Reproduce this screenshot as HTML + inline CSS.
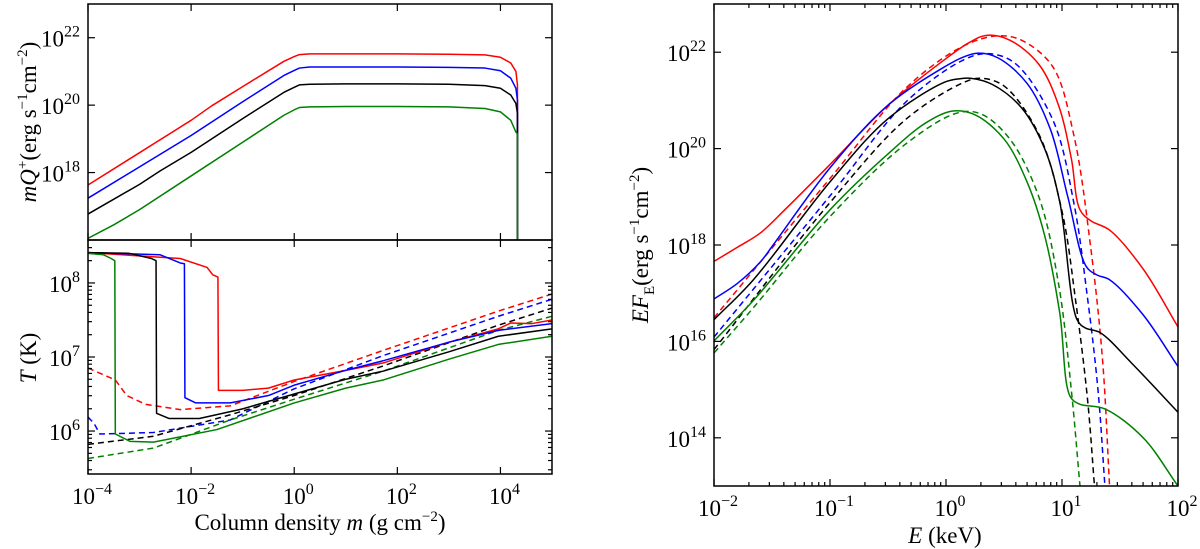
<!DOCTYPE html>
<html><head><meta charset="utf-8">
<style>
html,body{margin:0;padding:0;background:#fff;}
svg{display:block;}
svg text{font-family:"Liberation Serif","DejaVu Serif",serif;}
</style></head>
<body>
<svg id="fig" width="1200" height="549" viewBox="0 0 1200 549">
  <g id="plots"></g>
  <text x="0" y="0" transform="translate(36,122) rotate(-90)" text-anchor="middle" font-size="23"><tspan font-style="italic">mQ</tspan><tspan dy="-9" font-size="15">+</tspan><tspan dy="9">(erg s</tspan><tspan dy="-9" font-size="15">−1</tspan><tspan dy="9">cm</tspan><tspan dy="-9" font-size="15">−2</tspan><tspan dy="9">)</tspan></text>
  <text x="0" y="0" transform="translate(36,358) rotate(-90)" text-anchor="middle" font-size="23"><tspan font-style="italic">T</tspan> (K)</text>
  <text x="320" y="530" text-anchor="middle" font-size="23">Column density <tspan font-style="italic">m</tspan> (g cm<tspan dy="-9" font-size="15">−2</tspan><tspan dy="9">)</tspan></text>
  <text x="0" y="0" transform="translate(648,245) rotate(-90)" text-anchor="middle" font-size="23"><tspan font-style="italic">EF</tspan><tspan dy="6" font-size="15">E</tspan><tspan dy="-6">(erg s</tspan><tspan dy="-9" font-size="15">−1</tspan><tspan dy="9">cm</tspan><tspan dy="-9" font-size="15">−2</tspan><tspan dy="9">)</tspan></text>
  <text x="945" y="543" text-anchor="middle" font-size="23"><tspan font-style="italic">E</tspan> (keV)</text>
</svg>
<script>
// ---- Data (log10 values) ----
const seriesColors = ["red","blue","black","green"];
// Top-left: log m vs log mQ+
const qRedX = [-4,-2,-1.6,-1,-0.2,0,0.1,0.3,1,2,3,3.7,4.0,4.2,4.3,4.33,4.33];
const qRedY = [17.63,19.55,19.98,20.55,21.3,21.44,21.5,21.52,21.52,21.52,21.51,21.49,21.42,21.25,21.0,20.6,15.9];
const qBlueX = [-4,-2,-1.6,-1,-0.2,0,0.1,0.3,1,2,3,3.7,4.0,4.2,4.3,4.33,4.33];
const qBlueY = [17.24,19.1,19.5,20.1,20.88,21.03,21.1,21.13,21.13,21.13,21.12,21.1,21.02,20.8,20.5,20.15,15.9];
const qBlackX = [-4,-3,-2.6,-2,-1,-0.2,0,0.1,0.3,1,2,3,3.7,4.0,4.2,4.3,4.33,4.33];
const qBlackY = [16.77,17.65,18.05,18.6,19.6,20.38,20.53,20.6,20.62,20.63,20.63,20.62,20.58,20.5,20.3,20.05,19.75,15.9];
const qGreenX = [-4,-3.5,-3,-2,-1,-0.2,0,0.1,0.3,1,2,3,3.7,4.0,4.2,4.3,4.33,4.33];
const qGreenY = [16.05,16.45,16.9,17.9,18.9,19.7,19.86,19.93,19.95,19.96,19.96,19.95,19.9,19.8,19.55,19.2,19.15,15.9];
// Bottom-left: log m vs log T (solid and dashed)
const tRedX = [-4,-2.21,-1.69,-1.58,-1.48,-1.47,-1,-0.5,0,1,1.73,3,3.96,4.2,4.6,5];
const tRedY = [8.41,8.33,8.21,8.11,8.08,6.55,6.55,6.58,6.69,6.82,6.92,7.2,7.38,7.46,7.45,7.5];
const tBlueX = [-4,-2.6,-2.21,-2.13,-2.12,-1.91,-1.24,-0.5,0,1,1.73,3,3.96,5];
const tBlueY = [8.41,8.38,8.27,8.26,6.45,6.38,6.38,6.48,6.62,6.82,6.95,7.2,7.36,7.45];
const tBlackX = [-4,-3.2,-2.77,-2.68,-2.67,-2.43,-1.84,-1,0,1,1.73,3,3.96,5];
const tBlackY = [8.41,8.4,8.33,8.3,6.24,6.17,6.17,6.3,6.5,6.7,6.81,7.07,7.28,7.38];
const tGreenX = [-4,-3.7,-3.55,-3.48,-3.47,-3.18,-2.73,-1.5,0,1,1.73,3,3.96,5];
const tGreenY = [8.4,8.38,8.33,8.3,5.96,5.86,5.85,6.02,6.38,6.58,6.69,6.97,7.17,7.28];
const tdRedX = [-4,-3.47,-3.25,-2.88,-2.21,-1.24,0,1.73,3.96,5];
const tdRedY = [6.85,6.69,6.48,6.36,6.29,6.34,6.67,7.09,7.62,7.85];
const tdBlueX = [-4,-3.88,-3.77,-2.73,-1.24,0,1.73,3.96,5];
const tdBlueY = [6.19,6.1,5.96,5.98,6.15,6.57,7.02,7.55,7.78];
const tdBlackX = [-4,-2.73,-1.24,0,1.73,3.96,5];
const tdBlackY = [5.82,5.93,6.22,6.48,6.88,7.43,7.66];
const tdGreenX = [-4,-2.73,-1.24,0,1.73,3.96,5];
const tdGreenY = [5.63,5.77,6.15,6.43,6.81,7.36,7.55];
// Right: log E vs log EF_E
const sRedX = [-2,-1.8,-1.6,-1.39,-1,-0.5,-0.01,0.2,0.35,0.55,0.8,0.97,1.08,1.155,1.25,1.41,1.7,2];
const sRedY = [17.66,17.95,18.25,18.73,19.67,20.9,21.85,22.2,22.35,22.25,21.75,20.9,19.8,18.73,18.5,18.31,17.5,16.3];
const sBlueX = [-2,-1.8,-1.6,-1.49,-1,-0.5,-0.01,0.15,0.28,0.45,0.7,0.9,1.05,1.21,1.3,1.41,1.7,2];
const sBlueY = [16.88,17.2,17.65,18.0,19.6,20.9,21.7,21.9,21.98,21.88,21.35,20.4,19.0,17.55,17.38,17.28,16.55,15.48];
const sBlackX = [-2,-1.66,-1,-0.5,-0.01,0.12,0.21,0.4,0.65,0.85,0.98,1.13,1.2,1.33,1.6,2];
const sBlackY = [16.45,17.28,19.31,20.62,21.38,21.45,21.46,21.33,20.85,20.0,18.9,16.45,16.28,16.18,15.55,14.53];
const sGreenX = [-2,-1.66,-1,-0.5,-0.17,0.06,0.25,0.5,0.7,0.85,0.98,1.07,1.15,1.37,1.7,2];
const sGreenY = [16.01,16.85,18.73,19.89,20.54,20.78,20.7,20.2,19.3,18.2,16.6,14.86,14.7,14.6,14.0,13.0];
const sdRedX = [-2,-1,-0.34,0.16,0.45,0.65,0.92,1.1,1.25,1.35,1.41];
const sdRedY = [16.49,19.38,21.27,22.14,22.34,22.25,21.7,20.3,17.9,15.6,13.0];
const sdBlueX = [-2,-1,-0.34,0.16,0.36,0.59,0.92,1.1,1.22,1.31,1.37];
const sdBlueY = [16.09,19.02,20.98,21.85,21.97,21.78,20.6,18.9,16.9,15.0,13.0];
const sdBlackX = [-2,-1,-0.34,0.16,0.3,0.5,0.8,1.0,1.12,1.22,1.28];
const sdBlackY = [15.83,18.88,20.62,21.38,21.46,21.3,20.3,18.7,16.8,14.8,13.0];
const sdGreenX = [-2,-1.66,-1,-0.34,0.1,0.3,0.55,0.8,0.97,1.08,1.155];
const sdGreenY = [15.76,16.7,18.59,20.11,20.74,20.72,20.2,19.0,17.2,15.0,13.0];
// tick labels
const mTickExps = [-4,-2,0,2,4];
const qTickExps = [18,20,22];
const tTickExps = [6,7,8];
const eTickExps = [-2,-1,0,1,2];
const fTickExps = [14,16,18,20,22];

const NS="http://www.w3.org/2000/svg";
const root=document.getElementById('plots');
function el(tag,attrs,parent){const e=document.createElementNS(NS,tag);for(const k in attrs)e.setAttribute(k,attrs[k]);(parent||root).appendChild(e);return e;}

function makeAxes(x0,x1,y0,y1,xmin,xmax,ymin,ymax){
  return {x:v=>x0+(v-xmin)/(xmax-xmin)*(x1-x0), y:v=>y1-(v-ymin)/(ymax-ymin)*(y1-y0), x0,x1,y0,y1,xmin,xmax,ymin,ymax};
}
function linearPath(P){return 'M'+P.map(p=>p[0].toFixed(2)+','+p[1].toFixed(2)).join('L');}
// centripetal Catmull-Rom path
function smoothPath(P){
  if(P.length<3)return linearPath(P);
  let d='M'+P[0][0].toFixed(2)+','+P[0][1].toFixed(2);
  const dist=(a,b)=>Math.max(1e-4,Math.pow(Math.hypot(a[0]-b[0],a[1]-b[1]),0.5));
  for(let i=0;i<P.length-1;i++){
    const p0=P[i-1]||P[i],p1=P[i],p2=P[i+1],p3=P[i+2]||P[i+1];
    const d1=dist(p0,p1),d2=dist(p1,p2),d3=dist(p2,p3);
    let c1,c2;
    if(p0===p1){c1=[p1[0]+(p2[0]-p1[0])/3,p1[1]+(p2[1]-p1[1])/3];}
    else{const a=d1*d1,b=d2*d2,ab=2*a+3*d1*d2+b,n=3*d1*(d1+d2);
      c1=[(a*p2[0]-b*p0[0]+ab*p1[0])/n,(a*p2[1]-b*p0[1]+ab*p1[1])/n];}
    if(p3===p2){c2=[p2[0]-(p2[0]-p1[0])/3,p2[1]-(p2[1]-p1[1])/3];}
    else{const a=d3*d3,b=d2*d2,ab=2*a+3*d3*d2+b,n=3*d3*(d3+d2);
      c2=[(a*p1[0]-b*p3[0]+ab*p2[0])/n,(a*p1[1]-b*p3[1]+ab*p2[1])/n];}
    d+='C'+c1[0].toFixed(2)+','+c1[1].toFixed(2)+' '+c2[0].toFixed(2)+','+c2[1].toFixed(2)+' '+p2[0].toFixed(2)+','+p2[1].toFixed(2);
  }
  return d;
}
function drawLine(ax,xs,ys,color,dashed,name,g,smooth){
  const P=xs.map((x,i)=>[ax.x(x),ax.y(ys[i])]);
  const p=el('path',{d:smooth?smoothPath(P):linearPath(P),fill:'none',stroke:color,'stroke-width':1.5,'stroke-linejoin':'round'},g);
  if(dashed)p.setAttribute('stroke-dasharray','6,4');
  
  
}
function tickLabel(x,y,exp,anchor,g,name){
  const t=el('text',{x:x,y:y,'text-anchor':anchor,'font-size':23},g);
  
  
  const a=document.createElementNS(NS,'tspan');a.textContent='10';t.appendChild(a);
  const b=document.createElementNS(NS,'tspan');b.setAttribute('dy','-10');b.setAttribute('font-size','16');
  b.textContent=(exp<0?'−'+(-exp):String(exp));t.appendChild(b);
}
function ticks(ax,g,xmaj,ymaj,xminor,yminor,xlabels,ylabels){
  const L=7,l=4;
  const add=(x1,y1,x2,y2)=>el('line',{x1,y1,x2,y2,stroke:'#000','stroke-width':1.2},g);
  for(let e=Math.floor(ax.xmin);e<=Math.ceil(ax.xmax);e++){
    if(xmaj.includes(e)&&e>=ax.xmin&&e<=ax.xmax){const X=ax.x(e);add(X,ax.y1,X,ax.y1-L);add(X,ax.y0,X,ax.y0+L);}
    if(xminor)for(let k=2;k<10;k++){const v=e+Math.log10(k);if(v>ax.xmin&&v<ax.xmax){const X=ax.x(v);add(X,ax.y1,X,ax.y1-l);add(X,ax.y0,X,ax.y0+l);}}
  }
  for(let e=Math.floor(ax.ymin);e<=Math.ceil(ax.ymax);e++){
    if(ymaj.includes(e)&&e>=ax.ymin&&e<=ax.ymax){const Y=ax.y(e);add(ax.x0,Y,ax.x0+L,Y);add(ax.x1,Y,ax.x1-L,Y);}
    if(yminor)for(let k=2;k<10;k++){const v=e+Math.log10(k);if(v>ax.ymin&&v<ax.ymax){const Y=ax.y(v);add(ax.x0,Y,ax.x0+l,Y);add(ax.x1,Y,ax.x1-l,Y);}}
  }
  if(xlabels)xlabels.forEach(e=>tickLabel(ax.x(e)+4,ax.y1+30,e,'middle',g,'x-tick-label'));
  if(ylabels)ylabels.forEach(e=>tickLabel(ax.x0-8,ax.y(e)+9,e,'end',g,'y-tick-label'));
}
function frame(ax,g,name){
  const r=el('rect',{x:ax.x0,y:ax.y0,width:ax.x1-ax.x0,height:ax.y1-ax.y0,fill:'none',stroke:'#000','stroke-width':1.5},g);
  
  
}
function clip(id,ax){
  const cp=el('clipPath',{id:id});
  el('rect',{x:ax.x0,y:ax.y0,width:ax.x1-ax.x0,height:ax.y1-ax.y0},cp);
}

// Top-left panel
const gQ=el('g',{});


const axQ=makeAxes(88,552,4,240,-4,5,16,23);
clip('cq',axQ);
const gQl=el('g',{'clip-path':'url(#cq)'},gQ);
[[qRedX,qRedY],[qBlueX,qBlueY],[qBlackX,qBlackY],[qGreenX,qGreenY]].forEach((s,i)=>drawLine(axQ,s[0],s[1],seriesColors[i],false,'q-line-'+seriesColors[i],gQl,false));
ticks(axQ,gQ,mTickExps,qTickExps,false,false,null,qTickExps);
frame(axQ,gQ,'heating-rate-frame');

// Bottom-left panel
const gT=el('g',{});


const axT=makeAxes(88,552,240,474,-4,5,5.42,8.58);
clip('ct',axT);
const gTl=el('g',{'clip-path':'url(#ct)'},gT);
[[tdRedX,tdRedY],[tdBlueX,tdBlueY],[tdBlackX,tdBlackY],[tdGreenX,tdGreenY]].forEach((s,i)=>drawLine(axT,s[0],s[1],seriesColors[i],true,'t-dashed-'+seriesColors[i],gTl,false));
[[tRedX,tRedY],[tBlueX,tBlueY],[tBlackX,tBlackY],[tGreenX,tGreenY]].forEach((s,i)=>drawLine(axT,s[0],s[1],seriesColors[i],false,'t-line-'+seriesColors[i],gTl,false));
ticks(axT,gT,mTickExps,tTickExps,false,true,mTickExps,tTickExps);
frame(axT,gT,'temperature-frame');

// Right panel
const gS=el('g',{});


const axS=makeAxes(714,1178,4,486,-2,2,13,23);
clip('cs',axS);
const gSl=el('g',{'clip-path':'url(#cs)'},gS);
[[sdRedX,sdRedY],[sdBlueX,sdBlueY],[sdBlackX,sdBlackY],[sdGreenX,sdGreenY]].forEach((s,i)=>drawLine(axS,s[0],s[1],seriesColors[i],true,'spectrum-dashed-'+seriesColors[i],gSl,true));
[[sRedX,sRedY],[sBlueX,sBlueY],[sBlackX,sBlackY],[sGreenX,sGreenY]].forEach((s,i)=>drawLine(axS,s[0],s[1],seriesColors[i],false,'spectrum-line-'+seriesColors[i],gSl,true));
ticks(axS,gS,eTickExps,fTickExps,true,false,eTickExps,fTickExps);
frame(axS,gS,'spectrum-frame');
</script>
</body></html>
